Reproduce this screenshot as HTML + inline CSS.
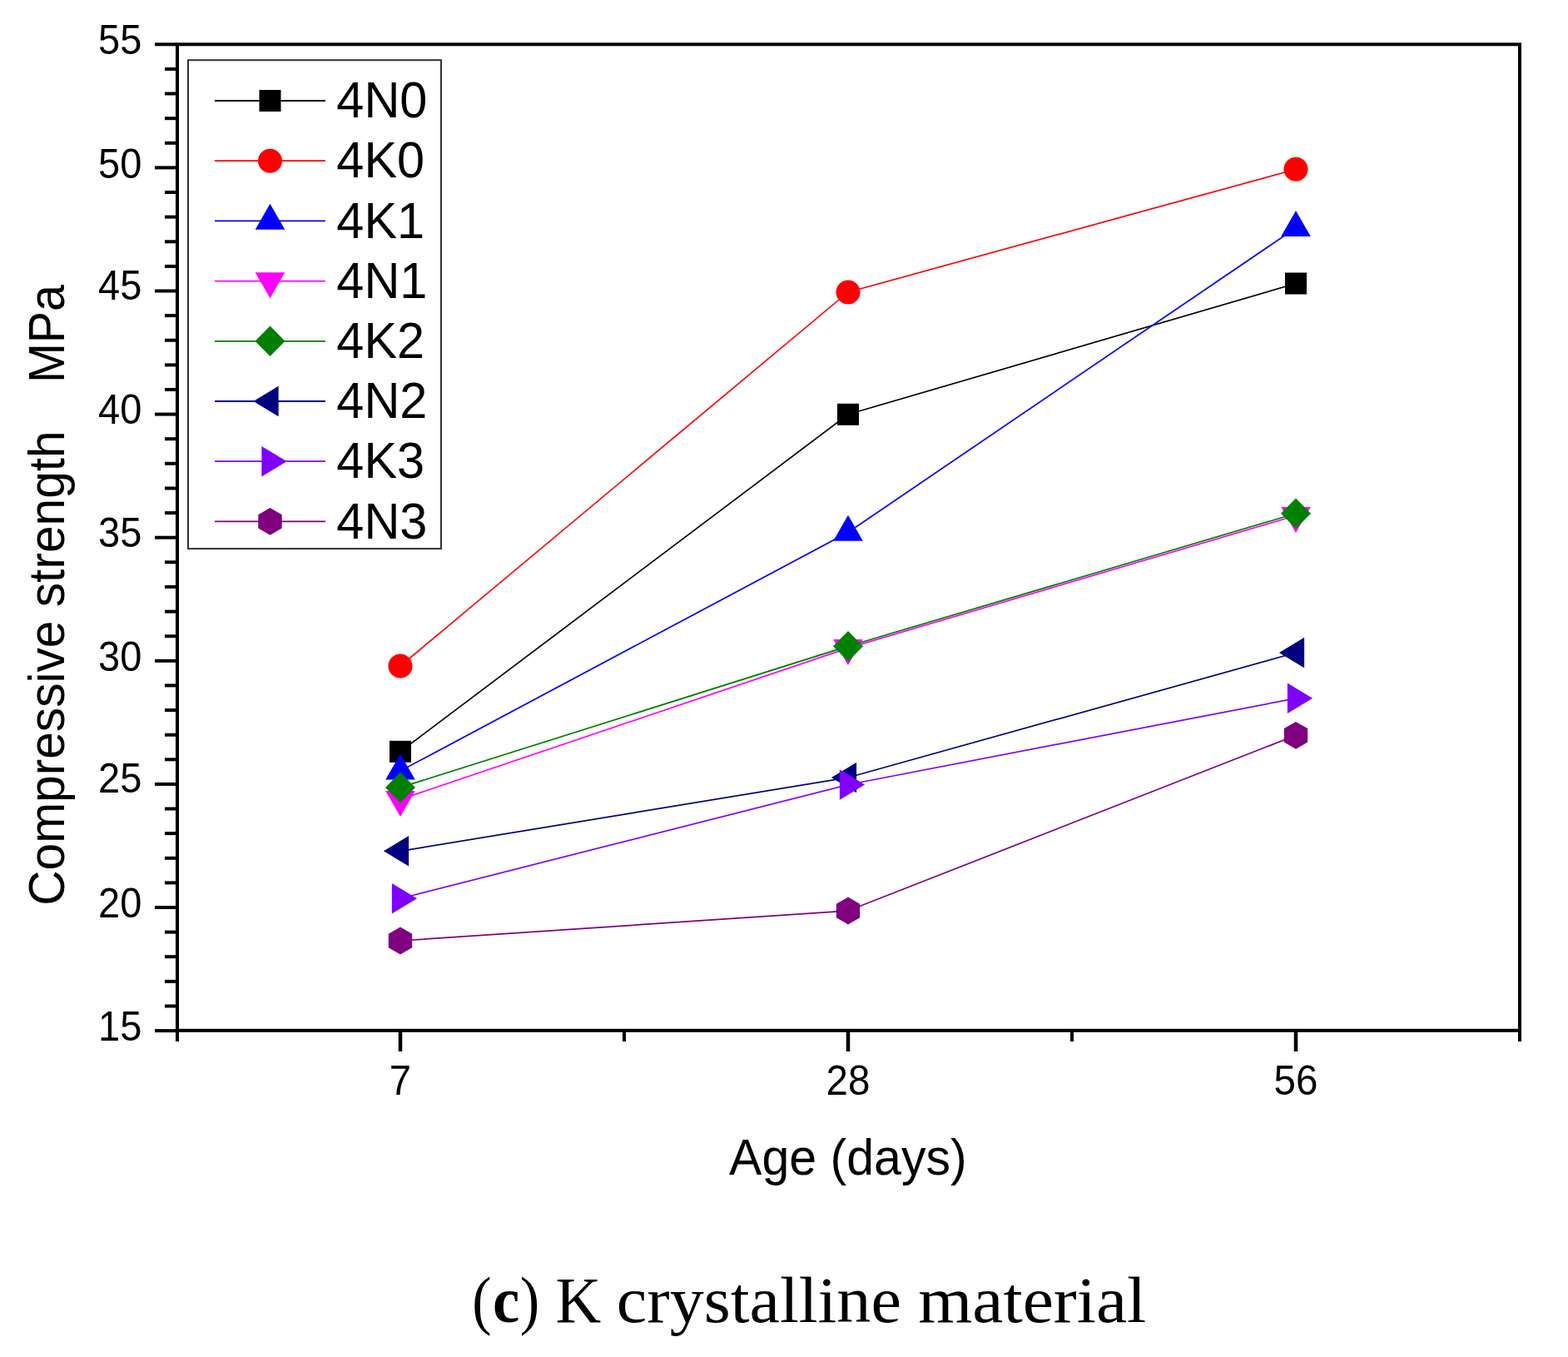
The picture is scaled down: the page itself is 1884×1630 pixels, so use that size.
<!DOCTYPE html>
<html><head><meta charset="utf-8"><title>Compressive strength of K crystalline material</title>
<style>html,body{margin:0;padding:0;background:#fff;overflow:hidden;}svg{display:block;}
.s{font-family:"Liberation Sans",Arial,sans-serif;fill:#000;}
.f{font-family:"Liberation Serif","Times New Roman",serif;fill:#000;}</style></head><body>
<svg width="1884" height="1630" viewBox="0 0 1884 1630">
<rect width="1884" height="1630" fill="#fff"/>
<rect x="213" y="53.3" width="1613" height="1184.5" fill="none" stroke="#000" stroke-width="4"/>
<line x1="186" y1="1238.1" x2="213" y2="1238.1" stroke="#000" stroke-width="4"/>
<line x1="198" y1="1208.5" x2="213" y2="1208.5" stroke="#000" stroke-width="4"/>
<line x1="198" y1="1178.9" x2="213" y2="1178.9" stroke="#000" stroke-width="4"/>
<line x1="198" y1="1149.2" x2="213" y2="1149.2" stroke="#000" stroke-width="4"/>
<line x1="198" y1="1119.6" x2="213" y2="1119.6" stroke="#000" stroke-width="4"/>
<line x1="186" y1="1090.0" x2="213" y2="1090.0" stroke="#000" stroke-width="4"/>
<line x1="198" y1="1060.4" x2="213" y2="1060.4" stroke="#000" stroke-width="4"/>
<line x1="198" y1="1030.8" x2="213" y2="1030.8" stroke="#000" stroke-width="4"/>
<line x1="198" y1="1001.1" x2="213" y2="1001.1" stroke="#000" stroke-width="4"/>
<line x1="198" y1="971.5" x2="213" y2="971.5" stroke="#000" stroke-width="4"/>
<line x1="186" y1="941.9" x2="213" y2="941.9" stroke="#000" stroke-width="4"/>
<line x1="198" y1="912.3" x2="213" y2="912.3" stroke="#000" stroke-width="4"/>
<line x1="198" y1="882.7" x2="213" y2="882.7" stroke="#000" stroke-width="4"/>
<line x1="198" y1="853.0" x2="213" y2="853.0" stroke="#000" stroke-width="4"/>
<line x1="198" y1="823.4" x2="213" y2="823.4" stroke="#000" stroke-width="4"/>
<line x1="186" y1="793.8" x2="213" y2="793.8" stroke="#000" stroke-width="4"/>
<line x1="198" y1="764.2" x2="213" y2="764.2" stroke="#000" stroke-width="4"/>
<line x1="198" y1="734.6" x2="213" y2="734.6" stroke="#000" stroke-width="4"/>
<line x1="198" y1="704.9" x2="213" y2="704.9" stroke="#000" stroke-width="4"/>
<line x1="198" y1="675.3" x2="213" y2="675.3" stroke="#000" stroke-width="4"/>
<line x1="186" y1="645.7" x2="213" y2="645.7" stroke="#000" stroke-width="4"/>
<line x1="198" y1="616.1" x2="213" y2="616.1" stroke="#000" stroke-width="4"/>
<line x1="198" y1="586.5" x2="213" y2="586.5" stroke="#000" stroke-width="4"/>
<line x1="198" y1="556.8" x2="213" y2="556.8" stroke="#000" stroke-width="4"/>
<line x1="198" y1="527.2" x2="213" y2="527.2" stroke="#000" stroke-width="4"/>
<line x1="186" y1="497.6" x2="213" y2="497.6" stroke="#000" stroke-width="4"/>
<line x1="198" y1="468.0" x2="213" y2="468.0" stroke="#000" stroke-width="4"/>
<line x1="198" y1="438.4" x2="213" y2="438.4" stroke="#000" stroke-width="4"/>
<line x1="198" y1="408.7" x2="213" y2="408.7" stroke="#000" stroke-width="4"/>
<line x1="198" y1="379.1" x2="213" y2="379.1" stroke="#000" stroke-width="4"/>
<line x1="186" y1="349.5" x2="213" y2="349.5" stroke="#000" stroke-width="4"/>
<line x1="198" y1="319.9" x2="213" y2="319.9" stroke="#000" stroke-width="4"/>
<line x1="198" y1="290.3" x2="213" y2="290.3" stroke="#000" stroke-width="4"/>
<line x1="198" y1="260.6" x2="213" y2="260.6" stroke="#000" stroke-width="4"/>
<line x1="198" y1="231.0" x2="213" y2="231.0" stroke="#000" stroke-width="4"/>
<line x1="186" y1="201.4" x2="213" y2="201.4" stroke="#000" stroke-width="4"/>
<line x1="198" y1="171.8" x2="213" y2="171.8" stroke="#000" stroke-width="4"/>
<line x1="198" y1="142.2" x2="213" y2="142.2" stroke="#000" stroke-width="4"/>
<line x1="198" y1="112.5" x2="213" y2="112.5" stroke="#000" stroke-width="4"/>
<line x1="198" y1="82.9" x2="213" y2="82.9" stroke="#000" stroke-width="4"/>
<line x1="186" y1="53.3" x2="213" y2="53.3" stroke="#000" stroke-width="4"/>
<line x1="481" y1="1237.8" x2="481" y2="1263" stroke="#000" stroke-width="4.5"/>
<line x1="1019" y1="1237.8" x2="1019" y2="1263" stroke="#000" stroke-width="4.5"/>
<line x1="1557" y1="1237.8" x2="1557" y2="1263" stroke="#000" stroke-width="4.5"/>
<line x1="213" y1="1237.8" x2="213" y2="1251" stroke="#000" stroke-width="4"/>
<line x1="750" y1="1237.8" x2="750" y2="1251" stroke="#000" stroke-width="4"/>
<line x1="1288" y1="1237.8" x2="1288" y2="1251" stroke="#000" stroke-width="4"/>
<line x1="1826" y1="1237.8" x2="1826" y2="1251" stroke="#000" stroke-width="4"/>
<text class="s" transform="translate(170.3,1249.8) scale(0.97,1.02)" font-size="48.5" text-anchor="end">15</text>
<text class="s" transform="translate(170.3,1101.7) scale(0.97,1.02)" font-size="48.5" text-anchor="end">20</text>
<text class="s" transform="translate(170.3,951.6) scale(0.97,1.02)" font-size="48.5" text-anchor="end">25</text>
<text class="s" transform="translate(170.3,805.9) scale(0.97,1.02)" font-size="48.5" text-anchor="end">30</text>
<text class="s" transform="translate(170.3,657.2) scale(0.97,1.02)" font-size="48.5" text-anchor="end">35</text>
<text class="s" transform="translate(170.3,509.0) scale(0.97,1.02)" font-size="48.5" text-anchor="end">40</text>
<text class="s" transform="translate(170.3,359.6) scale(0.97,1.02)" font-size="48.5" text-anchor="end">45</text>
<text class="s" transform="translate(170.3,213.7) scale(0.97,1.02)" font-size="48.5" text-anchor="end">50</text>
<text class="s" transform="translate(170.3,65.0) scale(0.97,1.02)" font-size="48.5" text-anchor="end">55</text>
<text class="s" transform="translate(481,1314.6) scale(0.98,1.02)" font-size="48.5" text-anchor="middle">7</text>
<text class="s" transform="translate(1019,1314.6) scale(0.98,1.02)" font-size="48.5" text-anchor="middle">28</text>
<text class="s" transform="translate(1557,1314.6) scale(0.98,1.02)" font-size="48.5" text-anchor="middle">56</text>
<text class="s" transform="translate(0,1410.6) scale(1,1.02)" x="875.98" y="0" font-size="59.5" textLength="285.78" lengthAdjust="spacingAndGlyphs">Age (days)</text>
<text class="s" transform="translate(76.5,1084.8) rotate(-90) translate(0,0) scale(1,1.03)" x="-2.98" y="0" font-size="58.5" textLength="570.49" lengthAdjust="spacingAndGlyphs">Compressive strength</text>
<text class="s" transform="translate(76.5,455.4) rotate(-90) translate(0,0) scale(1,1.03)" x="-4.71" y="0" font-size="58.5" textLength="118.11" lengthAdjust="spacingAndGlyphs">MPa</text>
<rect x="226" y="72.2" width="304" height="586.9" fill="#fff" stroke="#333" stroke-width="2"/>
<line x1="258" y1="121.0" x2="391" y2="121.0" stroke="#000000" stroke-width="1.8"/>
<rect x="311.5" y="108.0" width="26" height="26" fill="#000000"/>
<text class="s" transform="translate(404.3,141.2) scale(1,1.02)" font-size="59.5">4N0</text>
<line x1="258" y1="193.2" x2="391" y2="193.2" stroke="#ff0000" stroke-width="1.8"/>
<circle cx="324.5" cy="193.2" r="14.5" fill="#ff0000"/>
<text class="s" transform="translate(404.3,213.4) scale(1,1.02)" font-size="59.5">4K0</text>
<line x1="258" y1="265.4" x2="391" y2="265.4" stroke="#0000ff" stroke-width="1.8"/>
<polygon points="324.5,244.7 342.3,275.7 306.7,275.7" fill="#0000ff"/>
<text class="s" transform="translate(404.3,285.6) scale(1,1.02)" font-size="59.5">4K1</text>
<line x1="258" y1="337.6" x2="391" y2="337.6" stroke="#ff00ff" stroke-width="1.8"/>
<polygon points="324.5,358.3 342.3,327.3 306.7,327.3" fill="#ff00ff"/>
<text class="s" transform="translate(404.3,357.8) scale(1,1.02)" font-size="59.5">4N1</text>
<line x1="258" y1="409.8" x2="391" y2="409.8" stroke="#008000" stroke-width="1.8"/>
<polygon points="324.5,391.5 342.5,409.8 324.5,428.1 306.5,409.8" fill="#008000"/>
<text class="s" transform="translate(404.3,430.0) scale(1,1.02)" font-size="59.5">4K2</text>
<line x1="258" y1="482.0" x2="391" y2="482.0" stroke="#000080" stroke-width="1.8"/>
<polygon points="304.4,482.0 334.6,463.8 334.6,500.2" fill="#000080"/>
<text class="s" transform="translate(404.3,502.2) scale(1,1.02)" font-size="59.5">4N2</text>
<line x1="258" y1="554.2" x2="391" y2="554.2" stroke="#8000ff" stroke-width="1.8"/>
<polygon points="344.6,554.2 314.4,536.0 314.4,572.4" fill="#8000ff"/>
<text class="s" transform="translate(404.3,574.4) scale(1,1.02)" font-size="59.5">4K3</text>
<line x1="258" y1="626.4" x2="391" y2="626.4" stroke="#800080" stroke-width="1.8"/>
<polygon points="324.5,610.0 338.7,618.2 338.7,634.6 324.5,642.8 310.3,634.6 310.3,618.2" fill="#800080"/>
<text class="s" transform="translate(404.3,646.6) scale(1,1.02)" font-size="59.5">4N3</text>
<polyline points="481,902.8 1019,497.8 1557,340.5" fill="none" stroke="#000000" stroke-width="1.7"/>
<rect x="468.0" y="889.8" width="26" height="26" fill="#000000"/>
<rect x="1006.0" y="484.8" width="26" height="26" fill="#000000"/>
<rect x="1544.0" y="327.5" width="26" height="26" fill="#000000"/>
<polyline points="481,800.0 1019,350.9 1557,203.3" fill="none" stroke="#ff0000" stroke-width="1.7"/>
<circle cx="481.0" cy="800.0" r="14.5" fill="#ff0000"/>
<circle cx="1019.0" cy="350.9" r="14.5" fill="#ff0000"/>
<circle cx="1557.0" cy="203.3" r="14.5" fill="#ff0000"/>
<polyline points="481,926.1 1019,639.4 1557,273.8" fill="none" stroke="#0000ff" stroke-width="1.7"/>
<polygon points="481.0,905.4 498.8,936.4 463.2,936.4" fill="#0000ff"/>
<polygon points="1019.0,618.7 1036.8,649.7 1001.2,649.7" fill="#0000ff"/>
<polygon points="1557.0,253.1 1574.8,284.1 1539.2,284.1" fill="#0000ff"/>
<polyline points="481,960.3 1019,778.4 1557,619.3" fill="none" stroke="#ff00ff" stroke-width="1.7"/>
<polygon points="481.0,981.0 498.8,950.0 463.2,950.0" fill="#ff00ff"/>
<polygon points="1019.0,799.1 1036.8,768.1 1001.2,768.1" fill="#ff00ff"/>
<polygon points="1557.0,640.0 1574.8,609.0 1539.2,609.0" fill="#ff00ff"/>
<polyline points="481,945.9 1019,776.2 1557,616.8" fill="none" stroke="#008000" stroke-width="1.7"/>
<polygon points="481.0,927.6 499.0,945.9 481.0,964.2 463.0,945.9" fill="#008000"/>
<polygon points="1019.0,757.9 1037.0,776.2 1019.0,794.5 1001.0,776.2" fill="#008000"/>
<polygon points="1557.0,598.5 1575.0,616.8 1557.0,635.1 1539.0,616.8" fill="#008000"/>
<polyline points="481,1022.3 1019,934.0 1557,784.0" fill="none" stroke="#000080" stroke-width="1.7"/>
<polygon points="460.9,1022.3 491.1,1004.1 491.1,1040.5" fill="#000080"/>
<polygon points="998.9,934.0 1029.1,915.8 1029.1,952.2" fill="#000080"/>
<polygon points="1536.9,784.0 1567.1,765.8 1567.1,802.2" fill="#000080"/>
<polyline points="481,1079.2 1019,942.5 1557,838.8" fill="none" stroke="#8000ff" stroke-width="1.7"/>
<polygon points="501.1,1079.2 470.9,1061.0 470.9,1097.4" fill="#8000ff"/>
<polygon points="1039.1,942.5 1008.9,924.3 1008.9,960.7" fill="#8000ff"/>
<polygon points="1577.1,838.8 1546.9,820.6 1546.9,857.0" fill="#8000ff"/>
<polyline points="481,1130.0 1019,1094.0 1557,883.3" fill="none" stroke="#800080" stroke-width="1.7"/>
<polygon points="481.0,1113.6 495.2,1121.8 495.2,1138.2 481.0,1146.4 466.8,1138.2 466.8,1121.8" fill="#800080"/>
<polygon points="1019.0,1077.6 1033.2,1085.8 1033.2,1102.2 1019.0,1110.4 1004.8,1102.2 1004.8,1085.8" fill="#800080"/>
<polygon points="1557.0,866.9 1571.2,875.1 1571.2,891.5 1557.0,899.7 1542.8,891.5 1542.8,875.1" fill="#800080"/>
<text class="f" x="567.24" y="1587.7" font-size="78" textLength="23.21" lengthAdjust="spacingAndGlyphs">(</text>
<text class="f" x="592.01" y="1587.7" font-size="78" textLength="32.30" lengthAdjust="spacingAndGlyphs" font-weight="bold">c</text>
<text class="f" x="624.63" y="1587.7" font-size="78" textLength="23.47" lengthAdjust="spacingAndGlyphs">)</text>
<text class="f" x="667.42" y="1587.7" font-size="78" textLength="54.76" lengthAdjust="spacingAndGlyphs">K</text>
<text class="f" x="740.87" y="1587.7" font-size="78" textLength="341.97" lengthAdjust="spacingAndGlyphs">crystalline</text>
<text class="f" x="1103.24" y="1587.7" font-size="78" textLength="274.03" lengthAdjust="spacingAndGlyphs">material</text>
</svg></body></html>
